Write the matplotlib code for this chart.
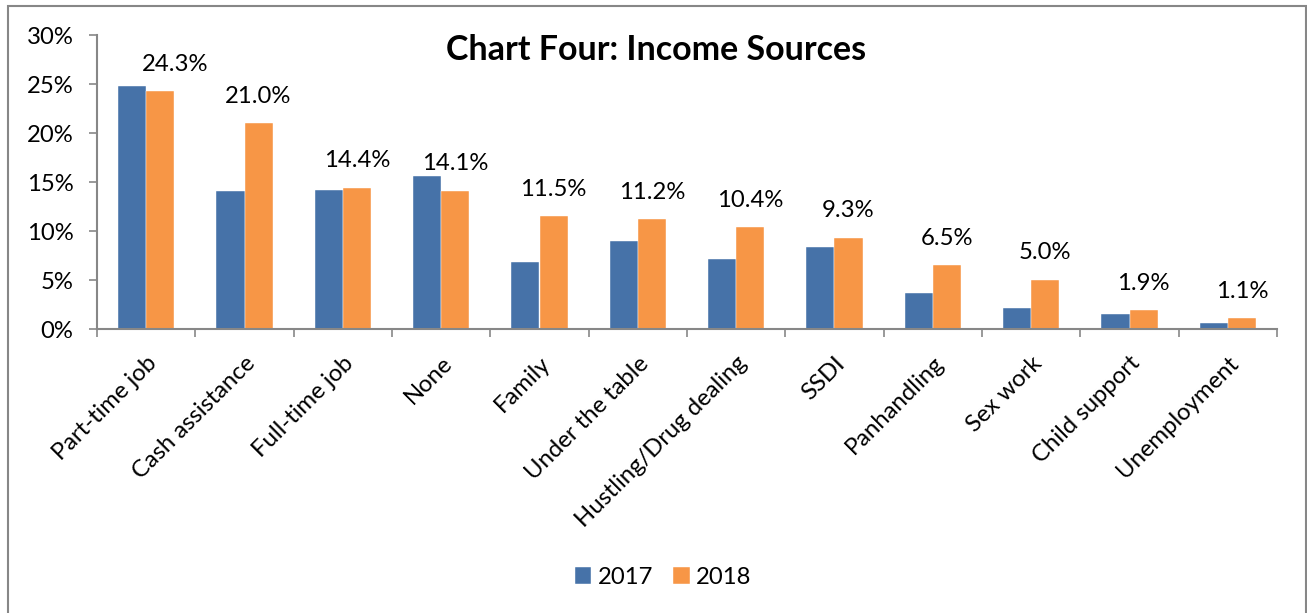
import matplotlib
matplotlib.use("Agg")
import matplotlib.pyplot as plt
from matplotlib.patches import Rectangle
from matplotlib.ticker import FuncFormatter, FixedLocator
import numpy as np

categories = ["Part-time job", "Cash assistance", "Full-time job", "None", "Family",
              "Under the table", "Hustling/Drug dealing", "SSDI", "Panhandling",
              "Sex work", "Child support", "Unemployment"]
values_2017 = [24.8, 14.1, 14.2, 15.6, 6.8, 9.0, 7.2, 8.4, 3.7, 2.1, 1.5, 0.6]
values_2018 = [24.3, 21.0, 14.4, 14.1, 11.5, 11.2, 10.4, 9.3, 6.5, 5.0, 1.9, 1.1]
series_names = ["2017", "2018"]
title = "Chart Four: Income Sources"

plt.rcParams['font.family'] = ['Lato', 'DejaVu Sans']

BLUE = "#4672A8"
ORANGE = "#F79646"
GREY = "#878787"
FS = 17.2

fig = plt.figure(figsize=(13.07, 6.13), dpi=100)
ax = fig.add_axes([97/1307, 1-329/613, (1277-97)/1307, (329-35.3)/613])

x = np.arange(len(categories))
w = 0.285
ax.bar(x - w/2, np.array(values_2017)/100, w, color=BLUE, label=series_names[0],
       edgecolor="white", linewidth=0.3)
bars18 = ax.bar(x + w/2, np.array(values_2018)/100, w, color=ORANGE, label=series_names[1],
                edgecolor="white", linewidth=0.3)

nudge = {0: 11}
for i, (rect, v) in enumerate(zip(bars18, values_2018)):
    ax.annotate(f"{v:.1f}%", (rect.get_x() + rect.get_width()/2, rect.get_height()),
                xytext=(nudge.get(i, 0), 19.5), textcoords="offset points",
                ha="center", va="center", fontsize=FS, color="black")

ax.set_xlim(-0.5, len(categories) - 0.5)
ax.set_ylim(0, 0.30)
ax.set_yticks(np.arange(0, 0.31, 0.05))
ax.yaxis.set_major_formatter(FuncFormatter(lambda v, p: f"{v*100:.0f}%"))
ax.tick_params(axis="y", direction="out", length=6, width=1.2, color=GREY,
               labelsize=FS, pad=11)

ax.set_xticks(x)
ax.set_xticklabels(categories, rotation=45, ha="right", rotation_mode="anchor", fontsize=FS)
ax.tick_params(axis="x", which="major", length=0, pad=17)
ax.xaxis.set_minor_locator(FixedLocator(np.arange(-0.5, len(categories), 1.0)))
ax.tick_params(axis="x", which="minor", direction="out", length=6, width=1.2, color=GREY)

for s in ["top", "right"]:
    ax.spines[s].set_visible(False)
for s in ["left", "bottom"]:
    ax.spines[s].set_color(GREY)
    ax.spines[s].set_linewidth(1.5)

fig.text(656/1307, 1-50/613, title, ha="center", va="center", fontsize=24.5,
         fontweight="bold")

leg = fig.legend(loc="center", bbox_to_anchor=(663/1307, 1-577/613), ncol=2, frameon=False,
                 fontsize=FS, handlelength=0.7, handleheight=0.7, handletextpad=0.25,
                 columnspacing=0.85)

fig.patches.append(Rectangle((8/1307, -0.05), (1306-8)/1307, 1.05 - 5.5/613,
                             transform=fig.transFigure, fill=False,
                             edgecolor=GREY, linewidth=1.5))

fig.savefig("out.png", dpi=100)
